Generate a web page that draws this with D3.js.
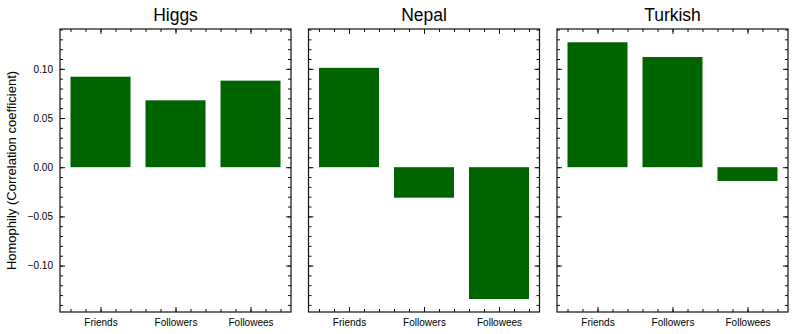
<!DOCTYPE html>
<html><head><meta charset="utf-8">
<script src="https://cdn.jsdelivr.net/npm/d3@7"></script>
<style>
html,body{margin:0;padding:0;background:#fff;}
text{font-family:"Liberation Sans",Arial,sans-serif;}
</style></head>
<body><svg id="c" width="793" height="334"></svg>
<script>
const datasets = ["Higgs", "Nepal", "Turkish"];
const categories = ["Friends", "Followers", "Followees"];
const higgsValues = [0.092, 0.068, 0.088];
const nepalValues = [0.101, -0.031, -0.134];
const turkishValues = [0.127, 0.112, -0.014];
const allValues = [higgsValues, nepalValues, turkishValues];
const yMajorTicks = [-0.10, -0.05, 0.00, 0.05, 0.10];
const yLabel = "Homophily (Correlation coefficient)";

const svg = d3.select("#c");
const plotTop = 29, plotBottom = 312;
const left0 = 60, panelW = 231, step = 248.5;

const y = d3.scaleLinear().domain([-0.1472, 0.1405]).range([plotBottom, plotTop]);
const yMinor = d3.range(-14, 15).map(d => d / 100);
const xMinor = d3.range(-2, 13).map(d => d / 5);
const fmt = d3.format(".2f");
const color = "#006400";

datasets.forEach((name, p) => {
  const x0 = left0 + p * step;
  const x = d3.scaleLinear().domain([-0.54, 2.54]).range([x0, x0 + panelW]);
  const g = svg.append("g");
  const vals = allValues[p];

  g.selectAll("rect.bar").data(vals).enter().append("rect")
    .attr("class", "bar")
    .attr("x", (d, i) => x(i - 0.4))
    .attr("width", (d, i) => x(i + 0.4) - x(i - 0.4))
    .attr("y", d => y(Math.max(0, d)))
    .attr("height", d => Math.abs(y(d) - y(0)))
    .attr("fill", color);

  const styleAxis = sel => {
    sel.select(".domain").remove();
    sel.selectAll("line").attr("stroke", "#111").attr("stroke-width", 1);
    sel.selectAll("text").attr("font-size", 10).attr("fill", "#000");
  };

  const la = g.append("g").attr("transform", `translate(${x0},0)`);
  la.append("g").call(d3.axisLeft(y).tickValues(yMinor).tickSizeInner(-3).tickSizeOuter(0).tickFormat("")).call(styleAxis);
  la.append("g").call(d3.axisLeft(y).tickValues(yMajorTicks).tickSizeInner(-5).tickSizeOuter(0).tickPadding(p === 0 ? 7 : 0)
     .tickFormat(p === 0 ? fmt : "")).call(styleAxis);
  const ra = g.append("g").attr("transform", `translate(${x0 + panelW},0)`);
  ra.append("g").call(d3.axisRight(y).tickValues(yMinor).tickSizeInner(-3).tickSizeOuter(0).tickFormat("")).call(styleAxis);
  ra.append("g").call(d3.axisRight(y).tickValues(yMajorTicks).tickSizeInner(-5).tickSizeOuter(0).tickFormat("")).call(styleAxis);
  const ba = g.append("g").attr("transform", `translate(0,${plotBottom})`);
  ba.append("g").call(d3.axisBottom(x).tickValues(xMinor).tickSizeInner(-3).tickSizeOuter(0).tickFormat("")).call(styleAxis);
  ba.append("g").call(d3.axisBottom(x).tickValues([0, 1, 2]).tickSizeInner(-5).tickSizeOuter(0).tickPadding(7)
     .tickFormat(i => categories[i])).call(styleAxis);
  const ta = g.append("g").attr("transform", `translate(0,${plotTop})`);
  ta.append("g").call(d3.axisTop(x).tickValues(xMinor).tickSizeInner(-3).tickSizeOuter(0).tickFormat("")).call(styleAxis);
  ta.append("g").call(d3.axisTop(x).tickValues([0, 1, 2]).tickSizeInner(-5).tickSizeOuter(0).tickFormat("")).call(styleAxis);

  g.append("rect").attr("x", x0).attr("y", plotTop).attr("width", panelW).attr("height", plotBottom - plotTop)
    .attr("fill", "none").attr("stroke", "#111").attr("stroke-width", 1.2);

  g.append("text").attr("x", x0 + panelW / 2).attr("y", 21).attr("text-anchor", "middle")
    .attr("font-size", 17.5).attr("fill", "#000").text(name);
});

svg.append("text").attr("transform", `translate(16,${(plotTop + plotBottom) / 2}) rotate(-90)`)
  .attr("text-anchor", "middle").attr("font-size", 13).attr("fill", "#000").text(yLabel);
</script></body></html>
